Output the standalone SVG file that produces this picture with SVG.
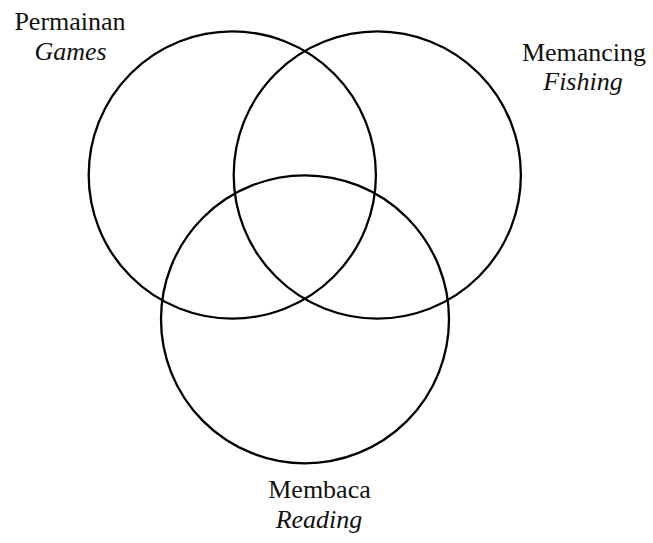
<svg xmlns="http://www.w3.org/2000/svg" width="653" height="543" viewBox="0 0 653 543">
<style>
.c{fill:none;stroke:#000;stroke-width:2.3}
.t{font-size:26px;fill:#111;text-anchor:middle}
.i{font-style:italic}
</style>
<rect width="653" height="543" fill="#fff"/>
<g id="games">
<circle class="c" cx="232.3" cy="175" r="143.6"/>
<text class="t" font-family="Liberation Serif, serif" x="70" y="29.5">Permainan</text>
<text class="t i" font-family="Liberation Serif, serif" x="70.5" y="59.5">Games</text>
</g>
<g id="fishing">
<circle class="c" cx="377.3" cy="175" r="143.6"/>
<text class="t" font-family="Liberation Serif, serif" x="584" y="60.5">Memancing</text>
<text class="t i" font-family="Liberation Serif, serif" x="583" y="89.5">Fishing</text>
</g>
<g id="reading">
<circle class="c" cx="305" cy="319.3" r="144"/>
<text class="t" font-family="Liberation Serif, serif" x="319.5" y="498">Membaca</text>
<text class="t i" font-family="Liberation Serif, serif" x="319" y="527.5">Reading</text>
</g>
<g id="connectors"/>
</svg>
